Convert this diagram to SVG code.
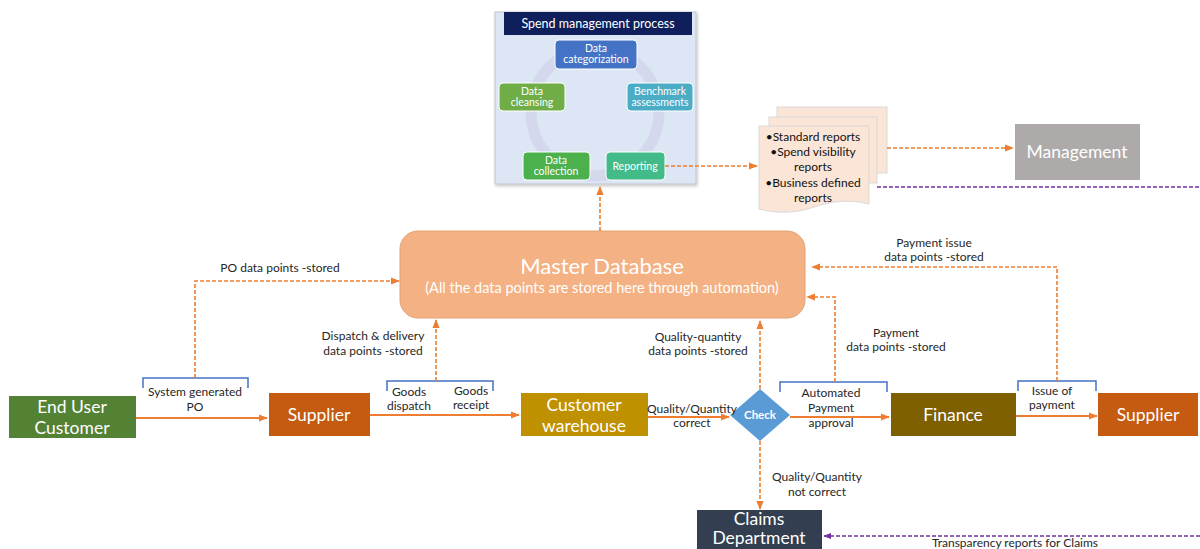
<svg xmlns="http://www.w3.org/2000/svg" width="1200" height="549" viewBox="0 0 1200 549">
  <style>
    text { font-family: Lato, "Open Sans", "Liberation Sans", sans-serif; }
    .lbl { font-size: 12px; fill: #262626; text-anchor: middle; }
    .box { font-size: 17.5px; fill: #ffffff; text-anchor: middle; }
    .sm { font-size: 10.5px; fill: #ffffff; text-anchor: middle; }
    .rep { font-size: 12px; fill: #111111; text-anchor: middle; }
    .flow { stroke: #ed7d31; stroke-width: 2; fill: none; }
    .dash { stroke: #ed7d31; stroke-width: 1.6; stroke-dasharray: 4 2; fill: none; }
    .pdash { stroke: #7030a0; stroke-width: 1.4; stroke-dasharray: 4 2; fill: none; }
    .brk { stroke: #4472c4; stroke-width: 1.5; fill: none; }
  </style>
  <defs>
    <marker id="ah" viewBox="0 0 10 10" refX="9" refY="5" markerWidth="9" markerHeight="9" markerUnits="userSpaceOnUse" orient="auto">
      <path d="M0,1 L10,5 L0,9 z" fill="#ed7d31"/>
    </marker>
    <marker id="ahp" viewBox="0 0 10 10" refX="9" refY="5" markerWidth="8" markerHeight="8" markerUnits="userSpaceOnUse" orient="auto">
      <path d="M0,1 L10,5 L0,9 z" fill="#7030a0"/>
    </marker>
    <filter id="sh" x="-10%" y="-10%" width="120%" height="120%">
      <feDropShadow dx="1" dy="1.5" stdDeviation="1.5" flood-color="#000" flood-opacity="0.25"/>
    </filter>
  </defs>

  <rect width="1200" height="549" fill="#ffffff"/>

  <!-- Spend management process panel -->
  <g id="spend-panel">
    <rect x="495" y="12" width="201" height="172" fill="#dce6f4" stroke="#c0c4cc" stroke-width="1" filter="url(#sh)"/>
    <rect x="504" y="12" width="188" height="23" fill="#0e1f5b"/>
    <text x="598" y="28" font-size="12.5" fill="#ffffff" text-anchor="middle">Spend management process</text>
    <circle cx="595" cy="112" r="64" fill="none" stroke="#d3d8ec" stroke-width="11"/>
    <g id="data-categorization">
      <rect x="555" y="40" width="82" height="29" rx="4" fill="#4472c4" stroke="#ffffff" stroke-width="1"/>
      <text class="sm" x="596" y="52">Data</text>
      <text class="sm" x="596" y="63">categorization</text>
    </g>
    <g id="benchmark">
      <rect x="627" y="83" width="66" height="28" rx="4" fill="#4bacc6" stroke="#ffffff" stroke-width="1"/>
      <text class="sm" x="660" y="95">Benchmark</text>
      <text class="sm" x="660" y="106">assessments</text>
    </g>
    <g id="data-cleansing">
      <rect x="499" y="83" width="66" height="28" rx="4" fill="#70ad47" stroke="#ffffff" stroke-width="1"/>
      <text class="sm" x="532" y="95">Data</text>
      <text class="sm" x="532" y="106">cleansing</text>
    </g>
    <g id="data-collection">
      <rect x="523" y="152" width="67" height="28" rx="4" fill="#4cb04c" stroke="#ffffff" stroke-width="1"/>
      <text class="sm" x="556" y="164">Data</text>
      <text class="sm" x="556" y="175">collection</text>
    </g>
    <g id="reporting">
      <rect x="606" y="152" width="59" height="28" rx="4" fill="#42bb88" stroke="#ffffff" stroke-width="1"/>
      <text class="sm" x="635" y="170">Reporting</text>
    </g>
  </g>

  <!-- Report stack -->
  <g id="reports">
    <rect x="777" y="107" width="110" height="66" fill="#fbe5d6" stroke="#d9d9d9" stroke-width="1"/>
    <rect x="769" y="117" width="108" height="66" fill="#fbe5d6" stroke="#d9d9d9" stroke-width="1"/>
    <path d="M759,126 H869 V204 C848,199 832,201 814,207 C797,213 778,214 759,209 Z" fill="#fbe5d6" stroke="#d9d9d9" stroke-width="1"/>
    <text class="rep" x="813" y="141">•Standard reports</text>
    <text class="rep" x="813" y="156">•Spend visibility</text>
    <text class="rep" x="813" y="171">reports</text>
    <text class="rep" x="813" y="187">•Business defined</text>
    <text class="rep" x="813" y="202">reports</text>
  </g>

  <!-- Management -->
  <g id="management">
    <rect x="1015" y="124" width="125" height="56" fill="#aeaaaa"/>
    <text class="box" x="1077" y="158" font-size="18">Management</text>
  </g>

  <!-- Master Database -->
  <g id="master-db">
    <rect x="400" y="231" width="405" height="87" rx="18" fill="#f4b183" stroke="#e0a274" stroke-width="1"/>
    <text x="602" y="274" font-size="22" fill="#ffffff" text-anchor="middle">Master Database</text>
    <text x="602" y="293" font-size="14.5" fill="#ffffff" text-anchor="middle">(All the data points are stored here through automation)</text>
  </g>

  <!-- Process boxes -->
  <g id="end-user">
    <rect x="9" y="396" width="127" height="42" fill="#548235"/>
    <text class="box" x="72" y="413">End User</text>
    <text class="box" x="72" y="434">Customer</text>
  </g>
  <g id="supplier-1">
    <rect x="269" y="393" width="101" height="43" fill="#c55a11"/>
    <text class="box" x="319" y="421">Supplier</text>
  </g>
  <g id="warehouse">
    <rect x="521" y="393" width="127" height="43" fill="#bf9000"/>
    <text class="box" x="584" y="411">Customer</text>
    <text class="box" x="584" y="432">warehouse</text>
  </g>
  <g id="check">
    <path d="M760,389 L790,415 L760,441 L730,415 Z" fill="#5b9bd5"/>
    <text x="760" y="419" font-size="11.5" font-weight="bold" fill="#ffffff" text-anchor="middle">Check</text>
  </g>
  <g id="finance">
    <rect x="891" y="393" width="125" height="43" fill="#7f6000"/>
    <text class="box" x="953" y="421">Finance</text>
  </g>
  <g id="supplier-2">
    <rect x="1098" y="393" width="100" height="43" fill="#c55a11"/>
    <text class="box" x="1148" y="421">Supplier</text>
  </g>
  <g id="claims">
    <rect x="697" y="510" width="125" height="45" fill="#333f50"/>
    <text class="box" x="759" y="525" font-size="15.5">Claims</text>
    <text class="box" x="759" y="544" font-size="15.5">Department</text>
  </g>

  <!-- Brackets -->
  <g id="brackets">
    <path class="brk" d="M143,388 V378 H248 V388"/>
    <path class="brk" d="M387,391 V381 H493 V391"/>
    <path class="brk" d="M780,392 V382 H887 V392"/>
    <path class="brk" d="M1018,391 V381 H1096 V391"/>
  </g>

  <!-- Connectors -->
  <g id="connectors">
    <path class="flow" d="M136,418 H267" marker-end="url(#ah)"/>
    <path class="flow" d="M370,415 H519" marker-end="url(#ah)"/>
    <path class="flow" d="M648,417 H729" marker-end="url(#ah)"/>
    <path class="flow" d="M790,417 H889" marker-end="url(#ah)"/>
    <path class="flow" d="M1016,416 H1097" marker-end="url(#ah)"/>

    <path class="dash" d="M195,378 V281 H399" marker-end="url(#ah)"/>
    <path class="dash" d="M436,381 V320" marker-end="url(#ah)"/>
    <path class="dash" d="M760,389 V321" marker-end="url(#ah)"/>
    <path class="dash" d="M835,382 V297 H807" marker-end="url(#ah)"/>
    <path class="dash" d="M1057,381 V267 H812" marker-end="url(#ah)"/>
    <path class="dash" d="M600,231 V187" marker-end="url(#ah)"/>
    <path class="dash" d="M665,166 H757" marker-end="url(#ah)"/>
    <path class="dash" d="M887,148 H1013" marker-end="url(#ah)"/>
    <path class="dash" d="M760,441 V509" marker-end="url(#ah)"/>

    <path class="pdash" d="M877,187 H1200"/>
    <path class="pdash" d="M1200,536 H824" marker-end="url(#ahp)"/>
  </g>

  <!-- Connector labels -->
  <g id="labels">
    <text class="lbl" x="280" y="272">PO data points -stored</text>
    <text class="lbl" x="195" y="396">System generated</text>
    <text class="lbl" x="195" y="411">PO</text>
    <text class="lbl" x="409" y="396">Goods</text>
    <text class="lbl" x="409" y="410">dispatch</text>
    <text class="lbl" x="471" y="395">Goods</text>
    <text class="lbl" x="471" y="409">receipt</text>
    <text class="lbl" x="373" y="340">Dispatch &amp; delivery</text>
    <text class="lbl" x="373" y="355">data points -stored</text>
    <text class="lbl" x="692" y="413" font-size="11.5">Quality/Quantity</text>
    <text class="lbl" x="692" y="427" font-size="11.5">correct</text>
    <text class="lbl" x="698" y="341">Quality-quantity</text>
    <text class="lbl" x="698" y="355">data points -stored</text>
    <text class="lbl" x="831" y="397">Automated</text>
    <text class="lbl" x="831" y="412">Payment</text>
    <text class="lbl" x="831" y="427">approval</text>
    <text class="lbl" x="896" y="337">Payment</text>
    <text class="lbl" x="896" y="351">data points -stored</text>
    <text class="lbl" x="934" y="247">Payment issue</text>
    <text class="lbl" x="934" y="261">data points -stored</text>
    <text class="lbl" x="1052" y="395">Issue of</text>
    <text class="lbl" x="1052" y="409">payment</text>
    <text class="lbl" x="817" y="481">Quality/Quantity</text>
    <text class="lbl" x="817" y="496">not correct</text>
    <text class="lbl" x="1015" y="547" font-size="11.5" fill="#111111">Transparency reports for Claims</text>
  </g>
</svg>
